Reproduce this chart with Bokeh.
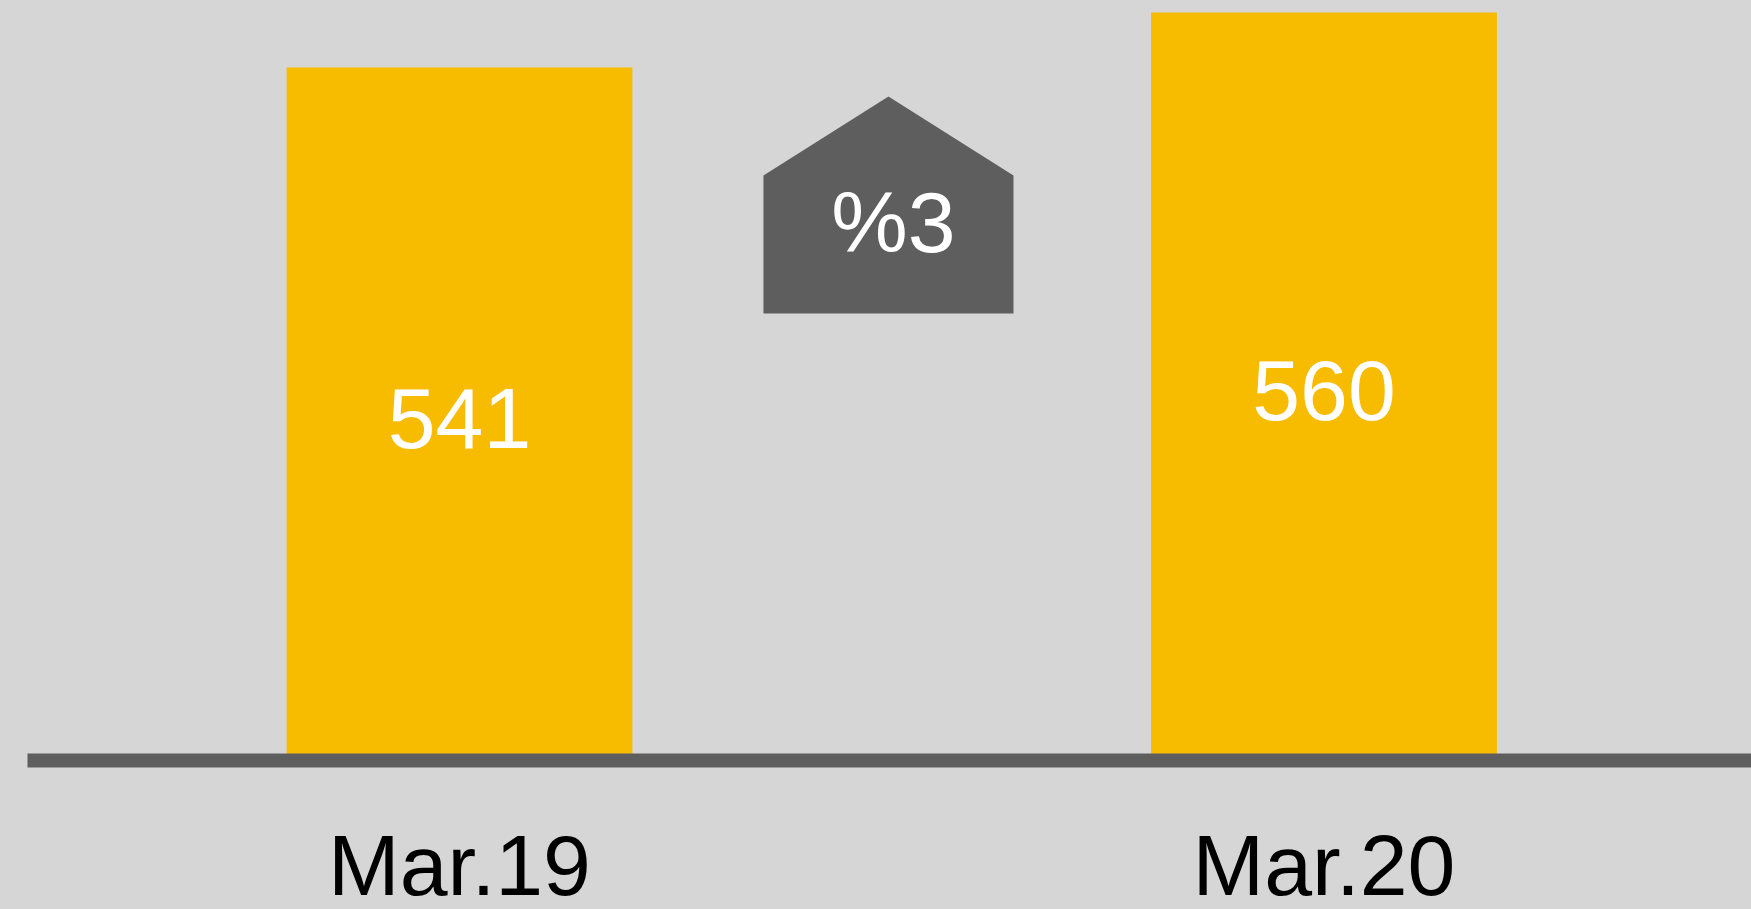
from bokeh.plotting import figure
from bokeh.models import ColumnDataSource, Range1d, FixedTicker, GlobalInlineStyleSheet
from bokeh.core.properties import value
from bokeh.embed import file_html
from bokeh.resources import INLINE

# ---- data ----
categories = ["Mar.19", "Mar.20"]
values = [541, 560]
value_labels = ["541", "560"]
change_label = ["%3"]

# ---- style / layout ----
BG = "#d6d6d6"
BAR = "#f7bb00"
DARK = "#5e5e5e"
FONT_A = "Arial"
FONT_B = "'Liberation Sans'"
Y_START, Y_END = 301.6, 564.15

x = list(range(len(categories)))

p = figure(frame_width=1724, frame_height=760,
           x_range=Range1d(-0.4997, 1.4945), y_range=Range1d(Y_START, Y_END),
           output_backend="svg", toolbar_location=None,
           min_border_left=27, min_border_right=0, min_border_top=0, min_border_bottom=0)
p.stylesheets = [GlobalInlineStyleSheet(
    css="html, body { background: #d6d6d6; margin: 0; padding: 0; overflow: hidden; }")]
p.background_fill_color = BG
p.border_fill_color = BG
p.outline_line_color = None
p.grid.visible = False
p.yaxis.visible = False

src = ColumnDataSource(dict(x=x, top=values, label=value_labels,
                            mid=[(v + Y_START) / 2 for v in values]))
p.vbar(x="x", top="top", bottom=Y_START, width=0.40, source=src,
       fill_color=BAR, line_color=None)
p.text(x="x", y="mid", text="label", source=src, text_color="white",
       text_font=value(FONT_B), text_font_size="86px", text_align="center",
       text_baseline="alphabetic", y_offset=4)

# change badge between the bars
cx, hw = 0.4962, 0.1446
p.patch([cx - hw, cx - hw, cx, cx + hw, cx + hw], [456.0, 503.7, 531.0, 503.7, 456.0],
        fill_color=DARK, line_color=None)
p.text(x=[0.502], y=[477.4], text=change_label, text_color="white",
       text_font=value(FONT_A), text_font_size="86px", text_align="center",
       text_baseline="alphabetic", y_offset=-30)

ax = p.xaxis[0]
ax.ticker = FixedTicker(ticks=x)
ax.major_label_overrides = {i: c for i, c in zip(x, categories)}
ax.axis_line_color = DARK
ax.axis_line_width = 14
ax.major_tick_line_color = None
ax.minor_tick_line_color = None
ax.major_label_text_font = FONT_A
ax.major_label_text_font_size = "86px"
ax.major_label_text_color = "black"
ax.major_label_standoff = 50

open("out.html", "w").write(file_html(p, INLINE))
